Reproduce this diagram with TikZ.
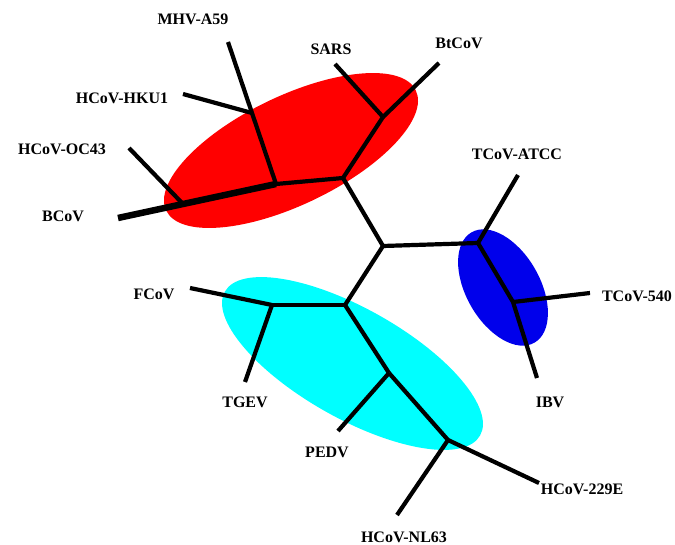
\documentclass[tikz,border=0pt]{standalone}
\usepackage{fontspec}
\setmainfont{Liberation Serif}
\usetikzlibrary{shapes.geometric}
\definecolor{cladeA}{RGB}{255,0,0}
\definecolor{cladeB}{RGB}{0,255,255}
\definecolor{cladeC}{RGB}{0,0,235}
\begin{document}
\begin{tikzpicture}[x=1pt,y=-1pt,
  clade/.style={ellipse,draw=none,inner sep=0pt},
  branch/.style={line width=4.2pt,line cap=butt,line join=miter},
  trunk/.style={line width=6.5pt,line cap=butt},
  taxon/.style={font=\fontsize{16}{19}\selectfont\bfseries,inner sep=0pt}]
\useasboundingbox (0,0) rectangle (675,545);
\fill[white] (0,0) rectangle (675,545);

% clade ellipses
\node[clade,fill=cladeA,minimum width=277pt,minimum height=108.6pt,rotate=25.7] (eA) at (291,150.5) {};
\node[clade,fill=cladeB,minimum width=293pt,minimum height=110pt,rotate=-29.4] (eB) at (352.5,363.5) {};
\node[clade,fill=cladeC,minimum width=127pt,minimum height=74pt,rotate=-60.4] (eC) at (503,287.5) {};

% internal nodes
\coordinate (root) at (383,246);
\coordinate (nA) at (343,178);
\coordinate (nSB) at (383,117);
\coordinate (nM) at (276,184);
\coordinate (nH) at (252,113);
\coordinate (nO) at (183,204);
\coordinate (nC1) at (478,243);
\coordinate (nC2) at (513,302);
\coordinate (nB) at (345,305);
\coordinate (nF) at (272,305);
\coordinate (nP) at (389,373);
\coordinate (nN) at (448,440);

% leaf ends
\coordinate (tMHV) at (228,42);
\coordinate (tHKU) at (183,94);
\coordinate (tSARS) at (335,64);
\coordinate (tBt) at (439,63);
\coordinate (tOC) at (129,148);
\coordinate (tBC) at (118,218);
\coordinate (tATCC) at (518,175);
\coordinate (t540) at (590,293);
\coordinate (tIBV) at (537,378);
\coordinate (tF) at (190,288);
\coordinate (tTG) at (245,382);
\coordinate (tPE) at (338,431);
\coordinate (t229) at (539,483);
\coordinate (tNL) at (397,515);

% tree
\draw[branch] (root) -- (nA);
\draw[branch] (root) -- (nC1);
\draw[branch] (root) -- (nB);
\draw[branch] (nA) -- (nSB);
\draw[branch] (nA) -- (nM);
\draw[branch] (nSB) -- (tSARS);
\draw[branch] (nSB) -- (tBt);
\draw[branch] (nM) -- (tMHV);
\draw[branch] (nH) -- (tHKU);
\draw[trunk] (nM) -- (tBC);
\draw[branch] (nO) -- (tOC);
\draw[branch] (nC1) -- (nC2);
\draw[branch] (nC1) -- (tATCC);
\draw[branch] (nC2) -- (t540);
\draw[branch] (nC2) -- (tIBV);
\draw[branch] (nB) -- (nF);
\draw[branch] (nF) -- (tF);
\draw[branch] (nF) -- (tTG);
\draw[branch] (nB) -- (nP);
\draw[branch] (nP) -- (tPE);
\draw[branch] (nP) -- (nN);
\draw[branch] (nN) -- (t229);
\draw[branch] (nN) -- (tNL);

% taxon labels
\node[taxon] (lMHV) at (193,19) {MHV-A59};
\node[taxon] (lSARS) at (331,49) {SARS};
\node[taxon] (lBt) at (459,43) {BtCoV};
\node[taxon] (lHKU) at (122,98) {HCoV-HKU1};
\node[taxon] (lOC) at (62,149) {HCoV-OC43};
\node[taxon] (lBC) at (63,216) {BCoV};
\node[taxon] (lATCC) at (517,154) {TCoV-ATCC};
\node[taxon] (l540) at (637,296) {TCoV-540};
\node[taxon] (lIBV) at (550,402) {IBV};
\node[taxon] (lF) at (154,294) {FCoV};
\node[taxon] (lTG) at (245,402) {TGEV};
\node[taxon] (lPE) at (327,452) {PEDV};
\node[taxon] (l229) at (582,489) {HCoV-229E};
\node[taxon] (lNL) at (404,537) {HCoV-NL63};
\end{tikzpicture}
\end{document}
